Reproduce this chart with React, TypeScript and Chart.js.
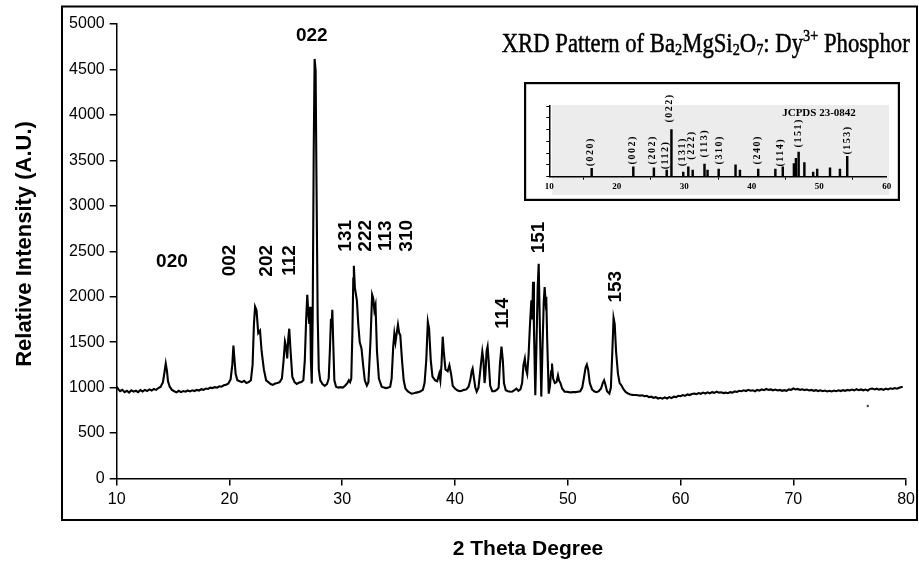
import { useEffect, useRef } from 'react';
import { Chart, registerables } from 'chart.js';

Chart.register(...registerables);

// ---- Main XRD scan (2θ, intensity) ----
const scanA: [number, number][] = [
  [10.0,1010],[10.15,980],[10.3,960],[10.5,975],[10.7,950],[10.9,965],[11.1,945],[11.3,970],[11.5,955],[11.7,965],[11.9,950],[12.1,972],[12.3,958],[12.5,975],[12.7,962],[12.9,980],[13.1,968],[13.3,985],[13.5,975],[13.7,995],[13.9,1010],[14.1,1060],[14.25,1180],[14.35,1264],[14.45,1190],[14.55,1070],[14.7,1010],[14.9,975],[15.1,960],[15.3,948],[15.5,965],[15.7,950],[15.9,962],[16.1,955],[16.3,968],[16.5,958],[16.7,970],[16.9,962],[17.1,975],[17.3,968],[17.5,982],[17.7,975],[17.9,990],[18.1,985],[18.3,1000],[18.5,995],[18.7,1005],[18.9,1000],[19.1,1015],[19.3,1010],[19.5,1025],[19.7,1030],[19.9,1045],[20.1,1090],[20.25,1250],[20.35,1462],[20.45,1300],[20.55,1150],[20.7,1080],[20.9,1070],[21.1,1060],[21.3,1075],[21.5,1050],[21.7,1060],[21.9,1080],[22.05,1250],[22.17,1700],[22.27,1890],[22.4,1850],[22.55,1600],[22.71,1626],[22.85,1400],[23.05,1200],[23.25,1080],[23.45,1060],[23.65,1040],[23.85,1030],[24.05,1045],[24.25,1050],[24.45,1060],[24.65,1100],[24.8,1300],[24.92,1505],[25.02,1450],[25.12,1320],[25.22,1550],[25.3,1648],[25.42,1400],[25.57,1120],[25.77,1060],[25.97,1040],[26.17,1055],[26.37,1060],[26.55,1080],[26.68,1300],[26.8,1750],[26.9,2022],[27.0,1800],[27.08,1700],[27.15,1890],[27.22,1300],[27.3,1044],[27.38,1800],[27.47,3600],[27.55,4616],[27.64,4484],[27.72,3200],[27.82,1800],[27.92,1200],[28.05,1080],[28.25,1040],[28.45,1020],[28.65,1040],[28.8,1100],[28.9,1400],[29.0,1758],[29.06,1700],[29.12,1857],[29.2,1500],[29.3,1080],[29.45,1010],[29.65,1000],[29.85,1005]
];
const scanB: [number, number][] = [
  [30.05,1000],[30.25,1020],[30.45,1050],[30.59,1080],[30.7,1060],[30.8,1100],[30.9,1600],[30.98,2200],[31.03,2341],[31.12,2100],[31.3,1956],[31.42,1700],[31.55,1500],[31.71,1429],[31.85,1250],[32.0,1080],[32.18,1022],[32.32,1060],[32.5,1500],[32.65,2022],[32.75,1980],[32.85,1850],[32.95,1905],[33.08,1400],[33.25,1100],[33.5,1011],[33.7,1000],[33.9,995],[34.1,1000],[34.25,1010],[34.38,1100],[34.52,1450],[34.62,1594],[34.72,1500],[34.83,1600],[34.94,1692],[35.05,1600],[35.15,1575],[35.3,1300],[35.45,1080],[35.6,990],[35.8,960],[35.98,945],[36.15,934],[36.35,938],[36.55,945],[36.75,950],[36.95,960],[37.15,975],[37.3,1050],[37.45,1300],[37.59,1725],[37.7,1650],[37.85,1300],[38.0,1120],[38.24,1080],[38.42,1070],[38.6,1154],[38.7,1080],[38.8,1250],[38.91,1560],[39.0,1400],[39.15,1200],[39.35,1180],[39.5,1245],[39.65,1150],[39.8,1020],[40.0,989],[40.2,970],[40.4,960],[40.6,965],[40.8,975],[41.0,980],[41.2,1010],[41.35,1080],[41.48,1180],[41.56,1209],[41.66,1120],[41.8,1000],[41.92,956],[42.08,1000],[42.25,1200],[42.42,1396],[42.52,1300],[42.62,1050],[42.7,1150],[42.8,1400],[42.89,1451],[42.98,1300],[43.12,1020],[43.3,960],[43.5,960],[43.7,975],[43.87,1000],[43.98,1250],[44.12,1451],[44.24,1300],[44.34,1050],[44.5,970],[44.7,960],[44.9,955],[45.1,958],[45.3,975],[45.45,989],[45.62,965],[45.8,980],[45.95,1050],[46.07,1250],[46.19,1319],[46.29,1200],[46.4,1150],[46.52,1350],[46.65,1700],[46.77,1960],[46.84,1750],[46.92,2165],[47.0,1650],[47.12,915],[47.22,1450],[47.33,2100],[47.42,2363],[47.52,1700],[47.65,901],[47.75,1400],[47.87,1950],[47.95,2107],[48.03,1950],[48.09,2000],[48.18,1500],[48.31,934],[48.42,1020],[48.52,1180],[48.6,1264],[48.7,1100],[48.85,1050],[49.0,1060],[49.13,1135],[49.22,1080],[49.35,1050],[49.5,990],[49.72,956],[49.9,955]
];
const scanC: [number, number][] = [
  [50.1,950],[50.3,948],[50.5,952],[50.7,950],[50.9,955],[51.1,960],[51.28,1000],[51.42,1100],[51.58,1220],[51.69,1253],[51.8,1200],[51.95,1050],[52.15,980],[52.37,956],[52.55,950],[52.75,960],[52.95,990],[53.1,1050],[53.22,1080],[53.32,1040],[53.48,960],[53.69,934],[53.82,1000],[53.95,1400],[54.06,1766],[54.16,1700],[54.28,1400],[54.45,1150],[54.6,1050],[54.75,1026],[54.95,980],[55.15,950],[55.35,935],[55.55,925],[55.75,920],[56.0,918],[56.2,915],[56.4,912],[56.6,915],[56.8,905],[57.0,910],[57.2,895],[57.4,900],[57.6,888],[57.8,895],[58.0,880],[58.2,888],[58.4,878],[58.6,892],[58.8,880],[59.0,895],[59.2,885],[59.4,900],[59.6,895],[59.8,910],[60.0,905],[60.2,918],[60.4,910],[60.6,925],[60.8,918],[61.0,930],[61.2,934],[61.4,928],[61.6,940],[61.8,932],[62.0,945],[62.2,935],[62.4,948],[62.6,938],[62.8,950],[63.0,942],[63.2,955],[63.4,945],[63.6,948],[63.8,940],[64.0,945],[64.2,938],[64.4,950],[64.6,945],[64.8,958],[65.0,952],[65.2,965],[65.4,960],[65.6,970],[65.8,962],[66.0,975],[66.2,965],[66.4,970],[66.6,960],[66.8,975],[67.0,968],[67.2,980],[67.4,972],[67.6,985],[67.8,975],[68.0,980],[68.2,970],[68.4,978],[68.6,968],[68.8,975],[69.0,965],[69.2,972],[69.4,965],[69.6,980],[69.8,975],[70.0,990],[70.2,980],[70.4,985],[70.6,975],[70.8,982],[71.0,972],[71.2,978],[71.4,968],[71.6,975],[71.8,965],[72.0,972],[72.2,962],[72.4,970],[72.6,960],[72.8,968],[73.0,958],[73.2,965],[73.4,958],[73.6,968],[73.8,960],[74.0,970],[74.2,962],[74.4,972],[74.6,965],[74.8,975],[75.0,968],[75.2,978],[75.4,970],[75.6,982],[75.8,972],[76.0,980],[76.2,970],[76.4,978],[76.6,968],[76.8,985],[77.0,990],[77.2,980],[77.4,988],[77.6,978],[77.8,985],[78.0,975],[78.2,988],[78.4,980],[78.6,992],[78.8,985],[79.0,995],[79.2,988],[79.45,1000],[79.7,1010]
];
const strayPoint: [number, number][] = [[76.6, 797]];

// ---- Peak (hkl) labels on main plot ----
const peakNames = ['020', '002', '202', '112', '022', '131', '222', '113', '310', '114', '151', '153'];
const peakLabelX = [14.9, 19.97, 23.24, 25.3, 27.3, 30.24, 32.03, 33.8, 35.6, 44.16, 47.36, 54.13];
const peakLabelY = [2392, 2398, 2395, 2398, 4884, 2670, 2670, 2670, 2670, 1817, 2651, 2110];
const peakRotated = [false, true, true, true, false, true, true, true, true, true, true, true];

// ---- Axis ticks ----
const xTicks = [10, 20, 30, 40, 50, 60, 70, 80];
const yTicks = [0, 500, 1000, 1500, 2000, 2500, 3000, 3500, 4000, 4500, 5000];

// ---- JCPDS 23-0842 inset stick pattern ----
const jcpdsPos = [16.28, 22.45, 25.5, 27.4, 28.1, 29.85, 30.6, 31.25, 33.0, 33.45, 35.1, 37.6, 38.25, 40.96, 43.5, 44.6, 46.25, 46.55, 46.95, 47.8, 49.1, 49.7, 51.6, 53.07, 54.15];
const jcpdsInt = [18, 21, 19, 14, 100, 10, 21, 14, 27, 14, 16, 25, 14, 16, 16, 21, 28, 39, 52, 30, 10, 16, 19, 16, 43];
const jcpdsLabels = ['(020)', '(002)', '(202)', '(112)', '(022)', '(131)', '(222)', '(113)', '(310)', '(240)', '(114)', '(151)', '(153)'];
const jcpdsLabelX = [16.03, 22.3, 25.3, 27.14, 27.85, 29.76, 31.0, 32.96, 35.19, 40.87, 44.28, 46.94, 54.15];
const jcpdsLabelY = [53, 57, 57, 46, 146, 53, 67, 71, 57, 57, 52, 93, 78];
const insetXTicks = [10, 20, 30, 40, 50, 60];

const SANS = '"Liberation Sans", Arial, sans-serif';
const SERIF = '"Liberation Serif", "Times New Roman", serif';

const titleParts: [string, number][] = [
  ['XRD Pattern of Ba', 0], ['2', 1], ['MgSi', 0], ['2', 1], ['O', 0], ['7', 1], [': Dy', 0], ['3+', 2], [' Phosphor', 0],
];

const mainDecor = {
  id: 'mainDecor',
  afterDraw(chart: any) {
    const ctx = chart.ctx as CanvasRenderingContext2D;
    const xs = chart.scales.x;
    const ys = chart.scales.y;
    ctx.save();
    // outer frame
    ctx.strokeStyle = '#000';
    ctx.lineWidth = 2;
    ctx.strokeRect(62, 6.5, 855, 513.5);
    ctx.fillStyle = '#000';
    // axis titles
    ctx.save();
    ctx.translate(25, 244);
    ctx.rotate(-Math.PI / 2);
    ctx.font = `bold 22px ${SANS}`;
    ctx.textAlign = 'center';
    ctx.textBaseline = 'middle';
    ctx.fillText('Relative Intensity (A.U.)', 0, 0);
    ctx.restore();
    ctx.font = `bold 21px ${SANS}`;
    ctx.textAlign = 'center';
    ctx.textBaseline = 'alphabetic';
    ctx.fillText('2 Theta Degree', 528, 555);
    // peak labels
    ctx.font = `bold 19px ${SANS}`;
    for (let i = 0; i < peakNames.length; i++) {
      const px = xs.getPixelForValue(peakLabelX[i]);
      const py = ys.getPixelForValue(peakLabelY[i]);
      ctx.save();
      ctx.translate(px, py);
      if (peakRotated[i]) ctx.rotate(-Math.PI / 2);
      ctx.textAlign = 'center';
      ctx.textBaseline = 'middle';
      ctx.fillText(peakNames[i], 0, 1);
      ctx.restore();
    }
    // chart title with sub/superscripts
    const big = 27;
    const small = 17;
    let total = 0;
    const widths: number[] = [];
    for (const [t, k] of titleParts) {
      ctx.font = `${k === 0 ? big : small}px ${SERIF}`;
      const w = ctx.measureText(t).width;
      widths.push(w);
      total += w;
    }
    const sx = 408 / total;
    ctx.save();
    ctx.translate(501.7, 52);
    ctx.scale(sx, 1);
    ctx.textAlign = 'left';
    ctx.textBaseline = 'alphabetic';
    ctx.strokeStyle = '#000';
    ctx.lineWidth = 0.5;
    let x = 0;
    titleParts.forEach(([t, k], i) => {
      ctx.font = `${k === 0 ? big : small}px ${SERIF}`;
      const dy = k === 1 ? 3 : k === 2 ? -11 : 0;
      ctx.fillText(t, x, dy);
      ctx.strokeText(t, x, dy);
      x += widths[i];
    });
    ctx.restore();
    ctx.restore();
  },
};

const insetDecor = {
  id: 'insetDecor',
  beforeDraw(chart: any) {
    const ctx = chart.ctx as CanvasRenderingContext2D;
    ctx.save();
    ctx.fillStyle = '#fff';
    ctx.fillRect(0, 0, chart.width, chart.height);
    ctx.fillStyle = '#ececec';
    ctx.fillRect(28, 23, 337, 90);
    ctx.restore();
  },
  afterDraw(chart: any) {
    const ctx = chart.ctx as CanvasRenderingContext2D;
    const xs = chart.scales.x;
    const ys = chart.scales.y;
    ctx.save();
    ctx.fillStyle = '#000';
    ctx.font = `bold 10px ${SERIF}`;
    (ctx as any).letterSpacing = '1.5px';
    for (let i = 0; i < jcpdsLabels.length; i++) {
      const px = xs.getPixelForValue(jcpdsLabelX[i]);
      const py = ys.getPixelForValue(jcpdsLabelY[i]);
      ctx.save();
      ctx.translate(px, py);
      ctx.rotate(-Math.PI / 2);
      ctx.textAlign = 'center';
      ctx.textBaseline = 'middle';
      ctx.fillText(jcpdsLabels[i], 0, 0);
      ctx.restore();
    }
    (ctx as any).letterSpacing = '0px';
    ctx.font = `bold 11px ${SERIF}`;
    ctx.textAlign = 'center';
    ctx.textBaseline = 'middle';
    ctx.fillText('JCPDS 23-0842', 295, 31);
    ctx.strokeStyle = '#000';
    ctx.lineWidth = 2.2;
    ctx.strokeRect(1.1, 1.1, chart.width - 2.2, chart.height - 2.2);
    ctx.restore();
  },
};

export default function App() {
  const mainRef = useRef<HTMLCanvasElement>(null);
  const insetRef = useRef<HTMLCanvasElement>(null);

  useEffect(() => {
    const scan = [...scanA, ...scanB, ...scanC].map(([x, y]) => ({ x, y }));
    const main = new Chart(mainRef.current as HTMLCanvasElement, {
      type: 'line',
      data: {
        datasets: [
          { data: scan, borderColor: '#000', borderWidth: 2.1, pointRadius: 0, tension: 0, fill: false },
          { data: strayPoint.map(([x, y]) => ({ x, y })), showLine: false, pointRadius: 1.2, backgroundColor: '#444', borderWidth: 0 },
        ],
      },
      options: {
        animation: false,
        responsive: false,
        maintainAspectRatio: false,
        layout: { padding: { left: 0, right: 9, top: 24, bottom: 0 } },
        plugins: { legend: { display: false }, tooltip: { enabled: false } },
        scales: {
          x: {
            type: 'linear',
            min: 10,
            max: 80,
            afterBuildTicks: (s: any) => { s.ticks = xTicks.map((v) => ({ value: v })); },
            afterFit: (s: any) => { s.height = 84.5; },
            ticks: { color: '#000', font: { family: SANS, size: 16 }, padding: 4, maxRotation: 0, autoSkip: false, callback: (v: any) => String(v) },
            grid: { display: true, drawOnChartArea: false, drawTicks: true, tickLength: 7, color: '#000', lineWidth: 1.5 },
            border: { display: true, color: '#000', width: 1.5 },
          },
          y: {
            type: 'linear',
            min: 0,
            max: 5000,
            afterBuildTicks: (s: any) => { s.ticks = yTicks.map((v) => ({ value: v })); },
            afterFit: (s: any) => { s.width = 116.7; },
            ticks: { color: '#000', font: { family: SANS, size: 16 }, padding: 5, autoSkip: false, callback: (v: any) => String(v) },
            grid: { display: true, drawOnChartArea: false, drawTicks: true, tickLength: 7, color: '#000', lineWidth: 1.5 },
            border: { display: true, color: '#000', width: 1.5 },
          },
        },
      } as any,
      plugins: [mainDecor],
    });

    const inset = new Chart(insetRef.current as HTMLCanvasElement, {
      type: 'bar',
      data: {
        datasets: [
          {
            data: jcpdsPos.map((x, i) => ({ x, y: jcpdsInt[i] })),
            backgroundColor: '#000',
            borderWidth: 0,
            barThickness: 1.8,
          },
        ],
      },
      options: {
        animation: false,
        responsive: false,
        maintainAspectRatio: false,
        layout: { padding: { left: 0, right: 13.3, top: 24, bottom: 0 } },
        plugins: { legend: { display: false }, tooltip: { enabled: false } },
        scales: {
          x: {
            type: 'linear',
            min: 10,
            max: 60,
            offset: false,
            afterBuildTicks: (s: any) => { s.ticks = insetXTicks.map((v) => ({ value: v })); },
            afterFit: (s: any) => { s.height = 24.3; },
            ticks: { color: '#000', font: { family: SERIF, size: 9, weight: 'bold' }, padding: 2, maxRotation: 0, autoSkip: false },
            grid: { display: true, drawOnChartArea: false, drawTicks: true, tickLength: 3, color: '#000', lineWidth: 1 },
            border: { display: true, color: '#000', width: 1.5 },
          },
          y: {
            type: 'linear',
            min: 0,
            max: 150,
            afterBuildTicks: (s: any) => { s.ticks = [0, 25, 50, 75, 100, 125, 150].map((v) => ({ value: v })); },
            afterFit: (s: any) => { s.width = 25.3; },
            ticks: { display: false },
            grid: { display: true, drawOnChartArea: false, drawTicks: true, tickLength: 3, color: '#000', lineWidth: 1 },
            border: { display: true, color: '#000', width: 1.5 },
          },
        },
      } as any,
      plugins: [insetDecor],
    });

    return () => {
      main.destroy();
      inset.destroy();
    };
  }, []);

  return (
    <div style={{ position: 'fixed', left: 0, top: 0, width: 919, height: 563, background: '#fff' }}>
      <canvas ref={mainRef} width={919} height={563} style={{ position: 'absolute', left: 0, top: 0, width: 919, height: 563 }} />
      <canvas ref={insetRef} width={376} height={119} style={{ position: 'absolute', left: 524, top: 82, width: 376, height: 119 }} />
    </div>
  );
}
